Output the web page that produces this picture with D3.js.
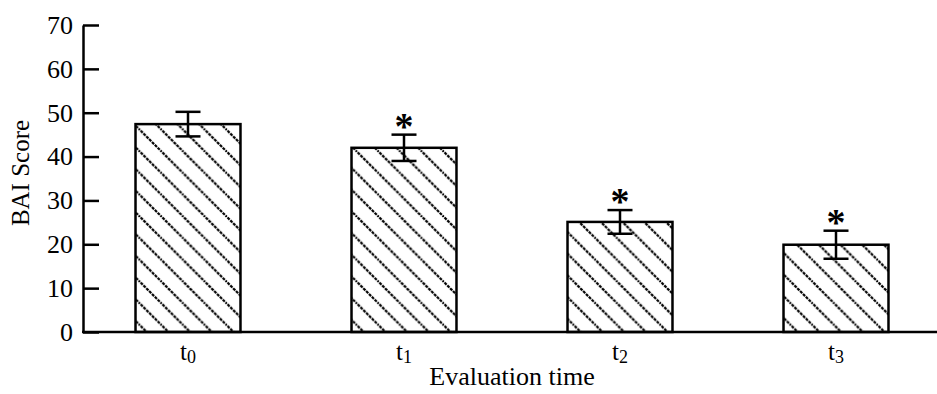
<!DOCTYPE html>
<html>
<head>
<meta charset="utf-8">
<script src="https://cdn.jsdelivr.net/npm/d3@7"></script>
<style>
  body { margin: 0; background: #fff; }
  text { font-family: "Liberation Serif", "Times New Roman", serif; }
</style>
</head>
<body>
<svg id="chart" width="937" height="394"></svg>
<script>
const groups = ['0', '1', '2', '3']
const scores = [47.4, 42.0, 25.1, 19.9]
const errors = [2.8, 3.0, 2.7, 3.2]
const marked = [false, true, true, true]
const yTicks = [0, 10, 20, 30, 40, 50, 60, 70]

const svg = d3.select('#chart')
const width = +svg.attr('width')
const height = +svg.attr('height')

const margin = {top: 25, left: 83, bottom: 62}
const yScale = d3.scaleLinear()
	.domain([0, 70])
	.range([height - margin.bottom, margin.top])

const xScale = d3.scaleBand()
	.domain(groups)
	.range([80, 944])
	.paddingInner(0.514)
	.paddingOuter(0.257)

// hatch
const defs = svg.append('defs')
const p = 21.7
const pat = defs.append('pattern')
	.attr('id', 'hatch')
	.attr('patternUnits', 'userSpaceOnUse')
	.attr('width', p)
	.attr('height', p)
	.attr('x', 10)
pat.append('path')
	.attr('d', `M${-p/2},${-p/2} L${p*1.5},${p*1.5} M${p/2},${-p/2} L${p*1.5},${p/2} M${-p/2},${p/2} L${p/2},${p*1.5}`)
	.attr('stroke', '#000')
	.attr('stroke-width', 2.2)
	.attr('stroke-dasharray', '3,1')

const g = svg.append('g')

g.selectAll('rect.bar')
	.data(scores)
	.enter().append('rect')
	.attr('class', 'bar')
	.attr('x', (d, i) => xScale(groups[i]))
	.attr('y', d => yScale(d))
	.attr('width', xScale.bandwidth())
	.attr('height', d => yScale(0) - yScale(d))
	.attr('fill', 'url(#hatch)')
	.attr('stroke', '#000')
	.attr('stroke-width', 2.5)

// error bars
const cx = i => xScale(groups[i]) + xScale.bandwidth() / 2
const capW = 12.5
const eb = g.append('g').attr('stroke', '#000').attr('stroke-width', 2.5)
scores.forEach((d, i) => {
	const top = yScale(d + errors[i]), bot = yScale(d - errors[i])
	eb.append('line').attr('x1', cx(i)).attr('x2', cx(i)).attr('y1', top).attr('y2', bot)
	eb.append('line').attr('x1', cx(i) - capW).attr('x2', cx(i) + capW).attr('y1', top).attr('y2', top)
	eb.append('line').attr('x1', cx(i) - capW).attr('x2', cx(i) + capW).attr('y1', bot).attr('y2', bot)
	if (marked[i]) {
		g.append('text')
			.text('*')
			.attr('x', cx(i))
			.attr('y', top + 4)
			.attr('text-anchor', 'middle')
			.attr('font-size', 38)
			.attr('font-weight', 'bold')
	}
})

// y axis
const yAxis = d3.axisLeft(yScale)
	.tickValues(yTicks)
	.tickSizeInner(-16)
	.tickSizeOuter(0)
	.tickPadding(10)

const yAxisG = svg.append('g')
	.attr('transform', `translate(${margin.left},0)`)
	.call(yAxis)
yAxisG.attr('font-family', null).attr('font-size', null)
yAxisG.select('.domain').attr('stroke-width', 2.5)
yAxisG.selectAll('.tick line').attr('stroke-width', 2.5)
yAxisG.selectAll('.tick text')
	.attr('font-size', 26)
	.attr('fill', '#000')
	.style('font-family', '"Liberation Serif", serif')

// x axis
svg.append('line')
	.attr('x1', margin.left - 1)
	.attr('x2', width)
	.attr('y1', yScale(0))
	.attr('y2', yScale(0))
	.attr('stroke', '#000')
	.attr('stroke-width', 2.5)

const xLabels = svg.append('g').selectAll('text')
	.data(groups)
	.enter().append('text')
	.attr('x', d => xScale(d) + xScale.bandwidth() / 2)
	.attr('y', 360)
	.attr('text-anchor', 'middle')
	.attr('font-size', 25)
xLabels.append('tspan').text('t')
xLabels.append('tspan').text(d => d).attr('font-size', 18).attr('dy', 3)

svg.append('text')
	.text('Evaluation time')
	.attr('x', 512)
	.attr('y', 385)
	.attr('text-anchor', 'middle')
	.attr('font-size', 26)

svg.append('text')
	.text('BAI Score')
	.attr('transform', `translate(29,173) rotate(-90)`)
	.attr('text-anchor', 'middle')
	.attr('font-size', 25)
</script>
</body>
</html>
